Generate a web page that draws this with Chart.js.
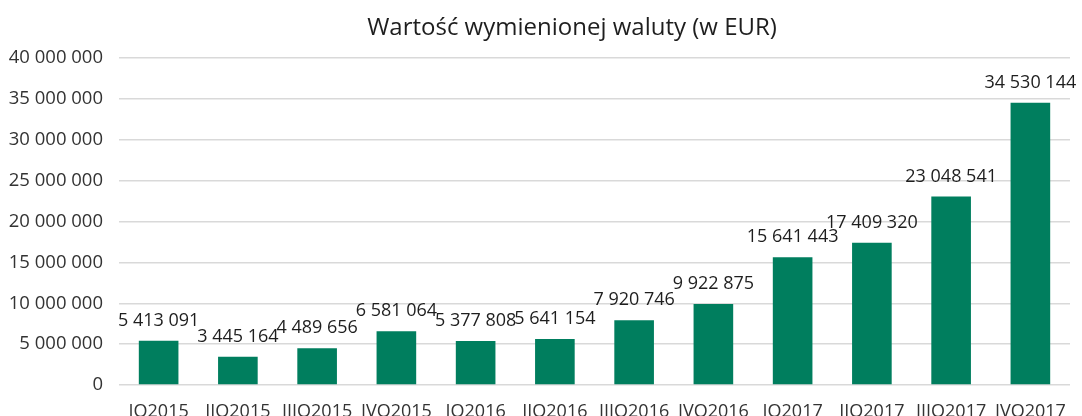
<!DOCTYPE html>
<html>
<head>
<meta charset="utf-8">
<script src="https://cdn.jsdelivr.net/npm/chart.js@4.4.0/dist/chart.umd.min.js"></script>
<style>
  html, body { margin: 0; padding: 0; background: #fff; }
  #wrap { width: 1082px; height: 416px; }
</style>
</head>
<body>
<div id="wrap"><canvas id="c" width="1082" height="416"></canvas></div>
<script>
const categories = ["IQ2015","IIQ2015","IIIQ2015","IVQ2015","IQ2016","IIQ2016","IIIQ2016","IVQ2016","IQ2017","IIQ2017","IIIQ2017","IVQ2017"];
const values = [5413091, 3445164, 4489656, 6581064, 5377808, 5641154, 7920746, 9922875, 15641443, 17409320, 23048541, 34530144];
const yTicks = [0, 5000000, 10000000, 15000000, 20000000, 25000000, 30000000, 35000000, 40000000];
const titleText = "Wartość wymienionej waluty (w EUR)";

function fmt(v) {
  return String(Math.round(v)).replace(/\B(?=(\d{3})+(?!\d))/g, " ");
}

const FONT = "'Open Sans', 'Noto Sans', sans-serif";

const labelPlugin = {
  id: 'barLabels',
  afterDatasetsDraw(chart) {
    const ctx = chart.ctx;
    const meta = chart.getDatasetMeta(0);
    ctx.save();
    ctx.font = "18px " + FONT;
    ctx.fillStyle = "#1e1e1e";
    ctx.textAlign = "center";
    ctx.textBaseline = "middle";
    meta.data.forEach((bar, i) => {
      ctx.fillText(fmt(values[i]), bar.x, bar.y - 20);
    });
    ctx.restore();
  }
};

const titlePlugin = {
  id: 'offsetTitle',
  afterDraw(chart) {
    const ctx = chart.ctx;
    ctx.save();
    ctx.font = "24px " + FONT;
    ctx.fillStyle = "#1e1e1e";
    ctx.textAlign = "center";
    ctx.textBaseline = "middle";
    ctx.fillText(titleText, chart.width / 2 + 31, 28);
    ctx.restore();
  }
};

new Chart(document.getElementById('c'), {
  type: 'bar',
  data: {
    labels: categories,
    datasets: [{
      data: values,
      backgroundColor: '#007e5e',
      borderWidth: 0,
      categoryPercentage: 1.0,
      barPercentage: 0.5
    }]
  },
  options: {
    responsive: false,
    animation: false,
    layout: { padding: { left: 0, right: 12, top: 58, bottom: 0 } },
    plugins: {
      legend: { display: false },
      tooltip: { enabled: false },
      title: { display: false }
    },
    scales: {
      x: {
        grid: { display: false },
        border: { display: false },
        ticks: {
          color: '#333333',
          font: { family: FONT, size: 18 },
          padding: 8,
          maxRotation: 0,
          autoSkip: false
        },
        afterFit(scale) { scale.height = 31; }
      },
      y: {
        min: 0,
        max: 40000000,
        afterBuildTicks(scale) { scale.ticks = yTicks.map(v => ({ value: v })); },
        grid: { color: '#d9d9d9', lineWidth: 1.5, drawTicks: false },
        border: { display: false },
        ticks: {
          color: '#333333',
          font: { family: FONT, size: 18.5 },
          padding: 16,
          callback: (v) => fmt(v)
        },
        afterFit(scale) { scale.width = 119; }
      }
    }
  },
  plugins: [labelPlugin, titlePlugin]
});
</script>
</body>
</html>
